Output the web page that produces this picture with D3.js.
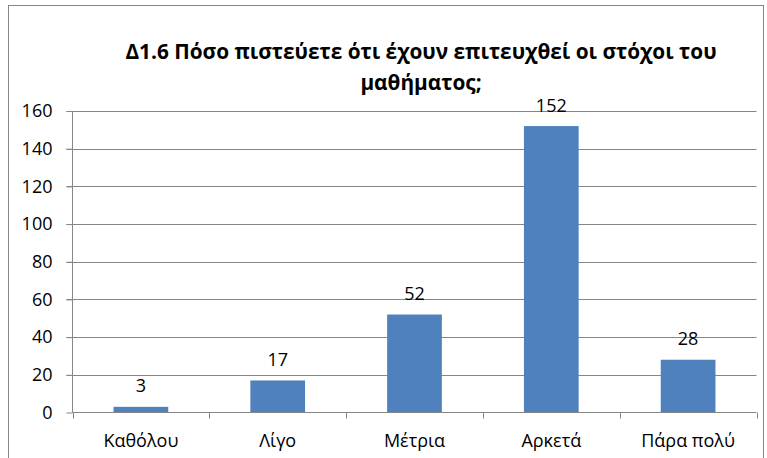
<!DOCTYPE html>
<html><head><meta charset="utf-8">
<script src="https://cdn.jsdelivr.net/npm/d3@7"></script>
<style>body{margin:0;background:#fff}svg{display:block}text{font-family:"Open Sans","Noto Sans",sans-serif;}</style>
</head><body>
<svg id="c" width="767" height="458"></svg>
<script>
const categories = ["Καθόλου","Λίγο","Μέτρια","Αρκετά","Πάρα πολύ"];
const values = [3,17,52,152,28];
const yTicks = [0,20,40,60,80,100,120,140,160];
const titleLines = ["Δ1.6 Πόσο πιστεύετε ότι έχουν επιτευχθεί οι στόχοι του","μαθήματος;"];

const svg = d3.select("#c");
const m = {left:72.5, right:756.5, top:111, bottom:412.5};
svg.append("rect").attr("x",8.5).attr("y",5.5).attr("width",755).attr("height",470)
  .attr("fill","none").attr("stroke","#868686").attr("stroke-width",1);

const x = d3.scaleBand().domain(categories).range([m.left,m.right]).paddingInner(0.6).paddingOuter(0.3);
const xb = d3.scaleBand().domain(categories).range([m.left,m.right]);
const y = d3.scaleLinear().domain([0,160]).range([m.bottom,m.top]);

svg.append("g").selectAll("line").data(yTicks.filter(d=>d>0)).join("line")
  .attr("x1",m.left-6).attr("x2",m.right).attr("y1",d=>Math.round(y(d))+0.5).attr("y2",d=>Math.round(y(d))+0.5)
  .attr("stroke","#868686").attr("stroke-width",1);

const ya = svg.append("g").attr("transform",`translate(${m.left},0)`)
  .call(d3.axisLeft(y).tickValues(yTicks).tickSize(6).tickPadding(14));
ya.select(".domain").attr("stroke","#868686").attr("d",`M0,${m.top}V${m.bottom}`);
ya.selectAll(".tick line").attr("stroke","#868686");
ya.selectAll(".tick text").style("font-size","18px").attr("fill","#000");

svg.append("g").selectAll("rect").data(values).join("rect")
  .attr("x",(d,i)=>x(categories[i])).attr("width",x.bandwidth())
  .attr("y",d=>y(d)).attr("height",d=>m.bottom-y(d)).attr("fill","#4F81BD");

const xa = svg.append("g").attr("transform",`translate(0,${m.bottom})`);
xa.append("line").attr("x1",m.left).attr("x2",m.right).attr("stroke","#868686");
const bounds = categories.map(c=>xb(c)).concat([m.right]);
xa.selectAll("line.t").data(bounds).join("line").attr("class","t")
  .attr("x1",d=>Math.round(d)+0.5).attr("x2",d=>Math.round(d)+0.5).attr("y1",0).attr("y2",6).attr("stroke","#868686");
xa.selectAll("text").data(categories).join("text")
  .attr("x",d=>xb(d)+xb.bandwidth()/2).attr("y",34).attr("text-anchor","middle")
  .style("font-size","18px").text(d=>d);

svg.append("g").selectAll("text").data(values).join("text")
  .attr("x",(d,i)=>x(categories[i])+x.bandwidth()/2).attr("y",d=>y(d)-14.5)
  .attr("text-anchor","middle").style("font-size","18px").text(d=>d);

svg.append("g").selectAll("text").data(titleLines).join("text")
  .attr("x",421).attr("y",(d,i)=>59+i*31).attr("text-anchor","middle")
  .style("font-size","20.8px").attr("font-weight","bold").text(d=>d);
</script>
</body></html>
